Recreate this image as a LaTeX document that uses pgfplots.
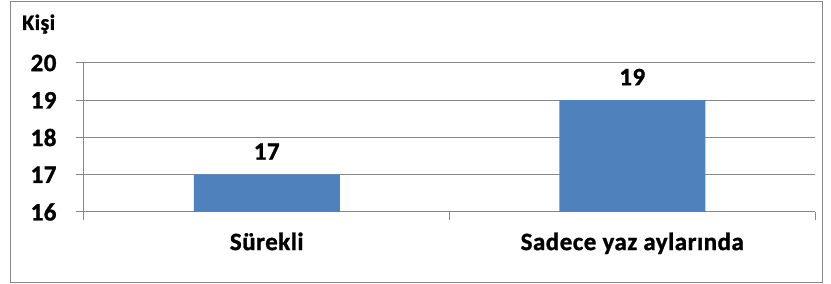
\documentclass[border=0pt]{standalone}
\usepackage{pgfplots}
\pgfplotsset{compat=1.18}
\usepackage{fontspec}
\setmainfont{Carlito}
\newfontfamily\lblfont[FakeBold=1.2, LetterSpace=2]{Carlito Bold}
\definecolor{barblue}{HTML}{4F81BD}
\definecolor{gridgray}{HTML}{888888}
\begin{document}
\begin{tikzpicture}[x=1pt,y=1pt]
\useasboundingbox (-84,-72) rectangle (747,212);
\draw[gridgray, line width=1pt] (-73.5,-70) rectangle (738.5,210);
\begin{axis}[
  at={(0,0)}, anchor=south west,
  scale only axis, width=731pt, height=149pt,
  xmin=0.5, xmax=2.5, ymin=16, ymax=20,
  ytick={16,17,18,19,20},
  ymajorgrids, grid style={gridgray, line width=1pt},
  axis lines*=left,
  axis line style={gridgray, line width=1pt, -},
  tick style={gridgray, line width=1pt},
  tick align=outside, major tick length=8pt,
  xtick={0.5,1.5,2.5}, xticklabels={},
  extra x ticks={1,2},
  extra x tick labels={Sürekli,Sadece yaz aylarında},
  extra x tick style={major tick length=0pt, grid=none},
  ticklabel style={font=\lblfont\fontsize{25}{29}\selectfont, text=black},
  /pgf/number format/assume math mode=true,
  yticklabel style={xshift=-16pt},
  xticklabel style={yshift=-17pt},
  ybar, bar width=146pt, bar shift=0pt,
  nodes near coords,
  nodes near coords style={font=\lblfont\fontsize{25}{29}\selectfont, text=black, yshift=11.5pt},
]
\addplot[fill=barblue, draw=none] coordinates {(1,17) (2,19)};
\end{axis}
\node[anchor=base west, inner sep=0pt, font=\lblfont\fontsize{22}{26}\selectfont] at (-62,182) {Kişi};
\end{tikzpicture}
\end{document}
